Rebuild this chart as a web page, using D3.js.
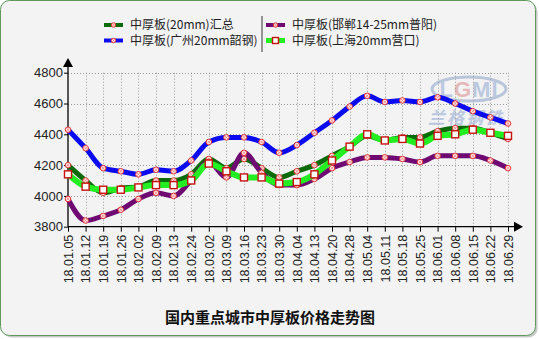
<!DOCTYPE html>
<html>
<head>
<meta charset="utf-8">
<script src="https://cdn.jsdelivr.net/npm/d3@7"></script>
<style>
  html, body { margin: 0; padding: 0; background: #ffffff; }
  svg { display: block; }
</style>
</head>
<body>
<svg id="chart" width="539" height="339"></svg>
<script>
// Weekly dates (yy.mm.dd)
const categories = ["18.01.05","18.01.12","18.01.19","18.01.26","18.02.02","18.02.09","18.02.13",
  "18.02.24","18.03.02","18.03.09","18.03.16","18.03.23","18.03.30","18.04.04","18.04.13",
  "18.04.20","18.04.28","18.05.04","18.05.11","18.05.18","18.05.25","18.06.01","18.06.08",
  "18.06.15","18.06.22","18.06.29"];

// Prices (元/吨)
const summary20mm = [4200,4100,4020,4050,4060,4100,4100,4140,4240,4180,4240,4180,4120,4160,4200,
  4260,4320,4390,4360,4380,4380,4420,4440,4440,4410,4370];
const guangzhou20mm = [4430,4310,4180,4160,4140,4170,4160,4230,4350,4380,4380,4350,4280,4330,4410,
  4490,4580,4650,4610,4620,4610,4640,4600,4550,4510,4470];
const handan14to25mm = [3980,3840,3870,3910,3980,4020,4000,4100,4220,4120,4280,4150,4070,4070,4110,
  4180,4220,4250,4250,4240,4220,4260,4260,4260,4230,4180];
const shanghai20mm = [4140,4060,4040,4040,4055,4070,4070,4100,4210,4160,4120,4120,4080,4090,4140,
  4230,4320,4400,4360,4370,4340,4390,4400,4430,4410,4390];

const yTicks = [3800,4000,4200,4400,4600,4800];
const seriesNames = ["中厚板(20mm)汇总","中厚板(广州20mm韶钢)","中厚板(邯郸14-25mm普阳)","中厚板(上海20mm营口)"];
const chartTitle = "国内重点城市中厚板价格走势图";

const series = [
  {name: seriesNames[0], values: summary20mm, color: "#0b6b0b", width: 5, marker: "circle"},
  {name: seriesNames[1], values: guangzhou20mm, color: "#0a0af0", width: 5, marker: "circle"},
  {name: seriesNames[2], values: handan14to25mm, color: "#6e0a72", width: 5, marker: "circle"},
  {name: seriesNames[3], values: shanghai20mm, color: "#22ee22", width: 6, marker: "square"}
];

const svg = d3.select("#chart");
const numFont = "'Liberation Sans', Arial, sans-serif";
const cjkFont = "'Noto Sans CJK SC', 'Noto Sans', sans-serif";

// Panel background with rounded frame
svg.append("rect").attr("x", 2.5).attr("y", 2.5).attr("width", 535).attr("height", 335)
  .attr("rx", 9).attr("fill", "#c8c8c8");
svg.append("rect").attr("x", 0.5).attr("y", 0.5).attr("width", 535).attr("height", 335)
  .attr("rx", 9).attr("fill", "#f3f3f3").attr("stroke", "#5c9a5c").attr("stroke-width", 1);

const x = d3.scalePoint().domain(categories).range([68, 508]);
const y = d3.scaleLinear().domain([3800, 4800]).range([226.7, 72.7]);

// Watermark logo
const logo = svg.append("g").attr("opacity", 0.55);
logo.append("ellipse").attr("cx", 469).attr("cy", 89).attr("rx", 37).attr("ry", 12)
  .attr("fill", "none").attr("stroke", "#8aa0c8").attr("stroke-width", 3);
logo.append("text").attr("x", 469).attr("y", 97).attr("text-anchor", "middle")
  .attr("font-family", numFont).attr("font-size", 22).attr("font-weight", "bold")
  .attr("letter-spacing", 1)
  .selectAll("tspan").data([["L","#8fa6cf"],["G","#d98a8a"],["M","#8fa6cf"],["I","#8fa6cf"]])
  .join("tspan").attr("fill", d => d[1]).text(d => d[0]);
logo.append("text").attr("x", 466).attr("y", 124).attr("text-anchor", "middle")
  .attr("font-family", cjkFont).attr("font-size", 17).attr("font-weight", "bold")
  .attr("font-style", "italic").attr("fill", "#8fa6cf").attr("letter-spacing", 2).text("兰格钢铁");

// Dotted grid
const grid = svg.append("g").attr("stroke", "#9a9a9a").attr("stroke-width", 1)
  .attr("stroke-dasharray", "1,2");
grid.selectAll("line.h").data(yTicks.slice(1)).join("line")
  .attr("x1", x.range()[0]).attr("x2", x.range()[1])
  .attr("y1", d => Math.round(y(d)) + 0.5).attr("y2", d => Math.round(y(d)) + 0.5);
grid.selectAll("line.v").data(categories.slice(1)).join("line")
  .attr("x1", d => Math.round(x(d)) + 0.5).attr("x2", d => Math.round(x(d)) + 0.5)
  .attr("y1", y(4800)).attr("y2", y(3800));

// Axes
const yAxis = svg.append("g").attr("transform", `translate(${x.range()[0]},0)`)
  .call(d3.axisLeft(y).tickValues(yTicks).tickSize(4).tickPadding(1).tickFormat(d3.format("d")));
yAxis.select(".domain").remove();
yAxis.selectAll("line").attr("stroke", "#000");
yAxis.selectAll("text").attr("font-family", numFont).attr("font-size", 13).attr("fill", "#222");

const xAxis = svg.append("g").attr("transform", `translate(0,${y(3800)})`)
  .call(d3.axisBottom(x).tickSize(5).tickPadding(0));
xAxis.select(".domain").remove();
xAxis.selectAll("line").attr("stroke", "#000");
xAxis.selectAll("text")
  .attr("font-family", numFont).attr("font-size", 12.5).attr("fill", "#222")
  .attr("transform", "rotate(-90)")
  .attr("text-anchor", "end").attr("dy", "0.35em").attr("x", -8).attr("y", 0);

// Axis lines with arrow heads
svg.append("line").attr("x1", 68).attr("x2", 68).attr("y1", y(3800)).attr("y2", 64)
  .attr("stroke", "#000").attr("stroke-width", 1.3);
svg.append("path").attr("d", "M68,58 L63,67 L73,67 Z").attr("fill", "#000");
svg.append("line").attr("x1", 68).attr("x2", 515).attr("y1", y(3800)).attr("y2", y(3800))
  .attr("stroke", "#000").attr("stroke-width", 1.3);
svg.append("path").attr("d", `M523,${y(3800)} L514,${y(3800) - 5} L514,${y(3800) + 5} Z`).attr("fill", "#000");

// Series lines and markers
const line = d3.line().x((d, i) => x(categories[i])).y(d => y(d)).curve(d3.curveMonotoneX);

function drawMarker(g, type, cx, cy, scale = 1) {
  if (type === "square") {
    const h = 3.5 * scale;
    g.append("rect").attr("x", cx - h).attr("y", cy - h).attr("width", 2 * h).attr("height", 2 * h)
      .attr("fill", "#ffffff").attr("stroke", "#c81010").attr("stroke-width", 1.4);
  } else {
    const r = 2.8 * scale, c = 1.5 * scale;
    g.append("circle").attr("cx", cx).attr("cy", cy).attr("r", r)
      .attr("fill", "#ffe4e4").attr("stroke", "#e03434").attr("stroke-width", 1);
    g.append("path").attr("d", `M${cx - c},${cy - c}L${cx + c},${cy + c}M${cx - c},${cy + c}L${cx + c},${cy - c}`)
      .attr("stroke", "#f08080").attr("stroke-width", 0.8);
  }
}

series.forEach(s => {
  const g = svg.append("g");
  g.append("path").datum(s.values).attr("d", line)
    .attr("fill", "none").attr("stroke", s.color).attr("stroke-width", s.width)
    .attr("stroke-linejoin", "round").attr("stroke-linecap", "round");
  s.values.forEach((v, i) => drawMarker(g, s.marker, x(categories[i]), y(v)));
});

// Legend
const legendPos = [[104, 25], [104, 40.5], [266, 25], [266, 40.5]];
series.forEach((s, i) => {
  const [lx, ly] = legendPos[i];
  const g = svg.append("g");
  g.append("line").attr("x1", lx).attr("x2", lx + 19).attr("y1", ly).attr("y2", ly)
    .attr("stroke", s.color).attr("stroke-width", s.width - 1);
  drawMarker(g, s.marker, lx + 9.5, ly, s.marker === "square" ? 0.85 : 0.8);
  g.append("text").attr("x", lx + 26).attr("y", ly).attr("dy", "0.36em")
    .attr("font-family", cjkFont).attr("font-size", 12).attr("fill", "#222").text(s.name);
});
svg.append("line").attr("x1", 262).attr("x2", 262).attr("y1", 16).attr("y2", 52)
  .attr("stroke", "#555").attr("stroke-width", 1.2);

// Title
svg.append("text").attr("x", 270).attr("y", 318).attr("dy", "0.35em").attr("text-anchor", "middle")
  .attr("font-family", cjkFont).attr("font-size", 15).attr("font-weight", "bold").attr("fill", "#111")
  .text(chartTitle);
</script>
</body>
</html>
